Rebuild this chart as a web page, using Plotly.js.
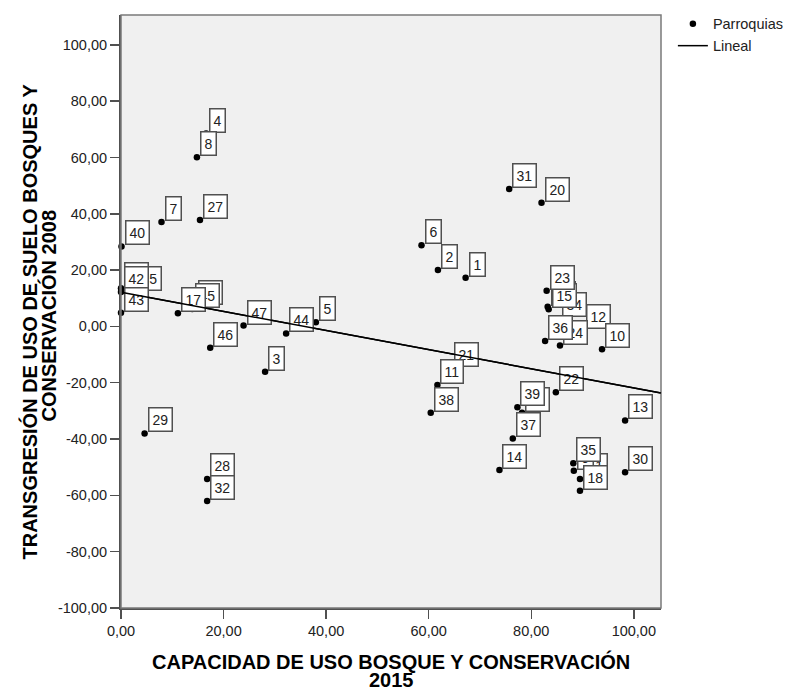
<!DOCTYPE html>
<html>
<head>
<meta charset="utf-8">
<script src="https://cdn.plot.ly/plotly-3.0.1.min.js"></script>
<style>
  html, body { margin: 0; padding: 0; background: #fff; }
  #chart { width: 785px; height: 689px; }
</style>
</head>
<body>
<div id="chart"></div>
<script>
// Parroquias: case number, land-use capacity 2015 (x) and transgression 2008 (y).
// Listed in drawing order so that later label boxes sit on top of earlier ones.
const caseNo = [
  26, 25, 42, 43, 40, 7, 27, 4, 8, 16, 45, 17, 46, 47, 44, 5, 3, 29, 28, 32,
  31, 20, 6, 2, 1, 19, 12, 24, 34, 36, 15, 23, 10, 21, 11, 38, 33, 39, 37, 14,
  22, 13, 30, 41, 9, 35, 18
];
const capacidad2015 = [
  0.0, 2.6, 0.0, 0.0, 0.1, 7.9, 15.4, 16.6, 14.8, 14.5, 13.9, 11.1, 17.4, 23.9, 32.2, 38.0, 28.1, 4.6, 16.8, 16.8,
  75.7, 82.0, 58.6, 61.8, 67.2, 83.2, 90.1, 85.6, 85.5, 82.7, 83.4, 83.0, 93.8, 64.4, 61.7, 60.4, 78.2, 77.3, 76.4, 73.8,
  84.8, 98.3, 98.3, 89.5, 88.3, 88.2, 89.5
];
const transgresion2008 = [
  13.6, 12.4, 12.2, 4.9, 28.4, 37.1, 37.8, 68.5, 60.1, 7.2, 6.2, 4.7, -7.6, 0.3, -2.5, 1.5, -16.1, -38.0, -54.2, -62.0,
  48.8, 43.9, 28.8, 20.0, 17.3, 7.0, -1.3, -6.8, 2.9, -5.2, 6.1, 12.7, -8.1, -14.8, -20.8, -30.7, -30.7, -28.7, -39.8, -51.0,
  -23.4, -33.4, -51.8, -54.2, -51.3, -48.6, -58.4
];

// Axis ticks
const xTickVals = [0, 20, 40, 60, 80, 100];
const xTickText = ['0,00', '20,00', '40,00', '60,00', '80,00', '100,00'];
const yTickVals = [-100, -80, -60, -40, -20, 0, 20, 40, 60, 80, 100];
const yTickText = ['-100,00', '-80,00', '-60,00', '-40,00', '-20,00', '0,00',
                   '20,00', '40,00', '60,00', '80,00', '100,00'];
const xRange = [0, 105.3];
const yRange = [-100, 110.6];

// Ordinary least-squares fit ("Lineal")
function linearFit(xs, ys) {
  const n = xs.length;
  const mx = xs.reduce((a, b) => a + b, 0) / n;
  const my = ys.reduce((a, b) => a + b, 0) / n;
  let sxy = 0, sxx = 0;
  for (let i = 0; i < n; i++) {
    sxy += (xs[i] - mx) * (ys[i] - my);
    sxx += (xs[i] - mx) * (xs[i] - mx);
  }
  const slope = sxy / sxx;
  return { slope, intercept: my - slope * mx };
}
const fit = linearFit(capacidad2015, transgresion2008);
const fitX = [xRange[0], xRange[1]];
const fitY = fitX.map(v => fit.intercept + fit.slope * v);

const FONT = 'Arial, "Liberation Sans", sans-serif';

const points = {
  type: 'scatter', mode: 'markers', name: 'Parroquias',
  x: capacidad2015, y: transgresion2008,
  marker: { color: '#000', size: 6.5 },
  cliponaxis: false, hoverinfo: 'skip'
};
const fitLine = {
  type: 'scatter', mode: 'lines', name: 'Lineal',
  x: fitX, y: fitY,
  line: { color: '#000', width: 1.5 },
  hoverinfo: 'skip'
};

// Case-number boxes next to every point
const labelBoxes = caseNo.map((c, i) => ({
  x: capacidad2015[i], y: transgresion2008[i], xref: 'x', yref: 'y',
  text: String(c), showarrow: false,
  xanchor: 'left', yanchor: 'bottom', xshift: 3, yshift: 1,
  bgcolor: '#ffffff', bordercolor: '#505050', borderwidth: 1.5, borderpad: 3,
  font: { family: FONT, size: 14, color: '#222' }
}));

// The fit line is repeated on top of the label boxes
const fitOverlay = {
  x: fitX[1], y: fitY[1], xref: 'x', yref: 'y',
  ax: fitX[0], ay: fitY[0], axref: 'x', ayref: 'y',
  text: '', showarrow: true, arrowhead: 0, arrowwidth: 1.5, arrowcolor: '#000',
  standoff: 0, startstandoff: 0
};

const titleFont = { family: FONT, size: 20, color: '#000', weight: 700 };
const axisTitles = [
  { text: 'CAPACIDAD DE USO BOSQUE Y CONSERVACIÓN', xref: 'paper', yref: 'paper',
    x: 0.5, y: 0, xanchor: 'center', yanchor: 'middle', yshift: -53,
    showarrow: false, font: titleFont },
  { text: '2015', xref: 'paper', yref: 'paper',
    x: 0.5, y: 0, xanchor: 'center', yanchor: 'middle', yshift: -72,
    showarrow: false, font: titleFont },
  { text: 'TRANSGRESIÓN DE USO DE SUELO BOSQUES Y', xref: 'paper', yref: 'paper',
    x: 0, y: 0.5, xanchor: 'center', yanchor: 'middle', xshift: -92, yshift: -10,
    textangle: -90, showarrow: false, font: titleFont },
  { text: 'CONSERVACIÓN 2008', xref: 'paper', yref: 'paper',
    x: 0, y: 0.5, xanchor: 'center', yanchor: 'middle', xshift: -73, yshift: -4,
    textangle: -90, showarrow: false, font: titleFont }
];

const layout = {
  width: 785, height: 689,
  margin: { l: 121, r: 124, t: 15, b: 81, autoexpand: false },
  paper_bgcolor: '#ffffff',
  plot_bgcolor: '#f0f0f0',
  font: { family: FONT, size: 14.5, color: '#222' },
  showlegend: true,
  legend: {
    x: 1.022, y: 1.012, xanchor: 'left', yanchor: 'top',
    font: { family: FONT, size: 14.5, color: '#222' },
    bgcolor: 'rgba(0,0,0,0)', tracegroupgap: 0
  },
  xaxis: {
    range: xRange, tickvals: xTickVals, ticktext: xTickText,
    showgrid: false, zeroline: false, automargin: false,
    showline: true, linecolor: '#505050', linewidth: 2,
    ticks: 'outside', ticklen: 9, tickwidth: 1.5, tickcolor: '#505050',
    tickfont: { family: FONT, size: 14.5, color: '#222' }
  },
  yaxis: {
    range: yRange, tickvals: yTickVals, ticktext: yTickText,
    showgrid: false, zeroline: false, automargin: false,
    showline: true, linecolor: '#505050', linewidth: 2,
    ticks: 'outside', ticklen: 9, tickwidth: 1.5, tickcolor: '#505050',
    tickfont: { family: FONT, size: 14.5, color: '#222' }
  },
  shapes: [{
    type: 'rect', xref: 'paper', yref: 'paper', x0: 0, y0: 0, x1: 1, y1: 1,
    line: { color: '#7a7a7a', width: 1.5 }, layer: 'above'
  }],
  annotations: labelBoxes.concat([fitOverlay], axisTitles),
  hovermode: false
};

Plotly.newPlot('chart', [points, fitLine], layout, { displayModeBar: false, staticPlot: true });
</script>
</body>
</html>
